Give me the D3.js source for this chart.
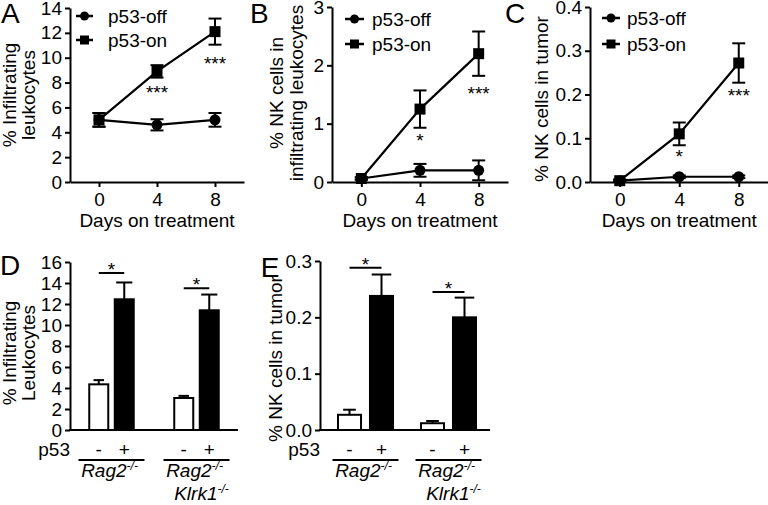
<!DOCTYPE html>
<html><head><meta charset="utf-8">
<script src="https://cdn.jsdelivr.net/npm/d3@7/dist/d3.min.js"></script>
<style>
body{margin:0;background:#fff;}
svg{display:block;}
text{font-family:"Liberation Sans",Arial,Helvetica,sans-serif;fill:#000;}
</style></head><body>
<svg id="chart" width="768" height="505"></svg>
<script>
// ---------- DATA ----------
const days = [0, 4, 8];
const seriesNames = ["p53-off", "p53-on"];

// Panel A: % infiltrating leukocytes
const aOff = [5.0, 4.6, 5.0];
const aOffErr = [0.55, 0.45, 0.55];
const aOn = [5.0, 8.9, 12.1];
const aOnErr = [0.55, 0.5, 1.05];
const aStarDays = [4, 8];
const aStarLabels = ["***", "***"];
const aStarVals = [7.5, 9.8];
const aTicks = [0, 2, 4, 6, 8, 10, 12, 14];

// Panel B: % NK cells in infiltrating leukocytes
const bOff = [0.06, 0.2, 0.2];
const bOffErr = [0.02, 0.11, 0.17];
const bOn = [0.06, 1.25, 2.2];
const bOnErr = [0.02, 0.32, 0.38];
const bStarDays = [4, 8];
const bStarLabels = ["*", "***"];
const bStarVals = [0.77, 1.58];
const bTicks = [0, 1, 2, 3];

// Panel C: % NK cells in tumor
const cOff = [0.003, 0.012, 0.012];
const cOffErr = [0.002, 0.003, 0.003];
const cOn = [0.003, 0.11, 0.272];
const cOnErr = [0.003, 0.026, 0.045];
const cStarDays = [4, 8];
const cStarLabels = ["*", "***"];
const cStarVals = [0.066, 0.206];
const cTicks = [0, 0.1, 0.2, 0.3, 0.4];

// Bar panels
const groups = ["Rag2", "Rag2 Klrk1"];
const p53States = ["-", "+"];
// Panel D: % infiltrating leukocytes
const dMinus = [4.35, 3.05];
const dMinusErr = [0.4, 0.2];
const dPlus = [12.45, 11.4];
const dPlusErr = [1.6, 1.5];
const dSig = [14.95, 13.5];
const dTicks = [0, 2, 4, 6, 8, 10, 12, 14, 16];
// Panel E: % NK cells in tumor
const eMinus = [0.027, 0.012];
const eMinusErr = [0.009, 0.004];
const ePlus = [0.238, 0.2];
const ePlusErr = [0.038, 0.035];
const eSig = [0.288, 0.245];
const eTicks = [0, 0.1, 0.2, 0.3];

// ---------- DRAWING ----------
const svg = d3.select("#chart");
svg.append("rect").attr("width", 768).attr("height", 505).attr("fill", "#fff");
const FS = 19;

function styleAxis(sel) {
  sel.selectAll("path.domain").attr("stroke", "#000").attr("stroke-width", 2);
  sel.selectAll(".tick line").attr("stroke", "#000").attr("stroke-width", 2);
  sel.selectAll(".tick text").attr("font-size", FS).attr("font-family", null).attr("fill", "#000");
  sel.attr("font-family", null).attr("font-size", FS);
}

function rotTitle(lines, xs, yc) {
  lines.forEach((t, i) => {
    svg.append("text").attr("transform", `translate(${xs[i]},${yc}) rotate(-90)`)
      .attr("text-anchor", "middle").attr("font-size", FS).text(t);
  });
}

function panelLetter(t, x, y) {
  svg.append("text").attr("x", x).attr("y", y).attr("font-size", 28).text(t);
}

function drawLinePanel(cfg) {
  const x = d3.scaleLinear().domain([-2, 10]).range(cfg.xr);
  const y = d3.scaleLinear().domain([0, cfg.yTicks[cfg.yTicks.length - 1]]).range([182, cfg.yTop]);
  const g = svg.append("g");
  const ya = d3.axisLeft(y).tickValues(cfg.yTicks).tickFormat(cfg.fmt).tickSize(5).tickSizeOuter(0).tickPadding(3);
  styleAxis(g.append("g").attr("transform", `translate(${cfg.xr[0]},0)`).call(ya));
  const xa = d3.axisBottom(x).tickValues(days).tickFormat(d3.format("d")).tickSize(5).tickSizeOuter(0).tickPadding(6);
  styleAxis(g.append("g").attr("transform", "translate(0,182)").call(xa));

  const ser = [
    { v: cfg.off, e: cfg.offErr, shape: "circle" },
    { v: cfg.on, e: cfg.onErr, shape: "square" }
  ];
  const line = d3.line().x((d, i) => x(days[i])).y(d => y(d));
  ser.forEach(s => {
    g.append("path").attr("d", line(s.v)).attr("fill", "none").attr("stroke", "#000").attr("stroke-width", 2.2);
    s.v.forEach((v, i) => {
      const cx = x(days[i]);
      const y1 = y(v - s.e[i]), y2 = y(v + s.e[i]);
      g.append("line").attr("x1", cx).attr("x2", cx).attr("y1", y1).attr("y2", y2).attr("stroke", "#000").attr("stroke-width", 2);
      [y1, y2].forEach(yy => g.append("line").attr("x1", cx - 6.5).attr("x2", cx + 6.5).attr("y1", yy).attr("y2", yy).attr("stroke", "#000").attr("stroke-width", 2));
    });
    s.v.forEach((v, i) => {
      const cx = x(days[i]), cy = y(v);
      if (s.shape === "circle") g.append("circle").attr("cx", cx).attr("cy", cy).attr("r", 5.5).attr("fill", "#000");
      else g.append("rect").attr("x", cx - 5.5).attr("y", cy - 5.5).attr("width", 11).attr("height", 11).attr("fill", "#000");
    });
  });
  cfg.starDays.forEach((d, i) => {
    g.append("text").attr("x", x(d)).attr("y", y(cfg.starVals[i]) + 10).attr("text-anchor", "middle")
      .attr("font-size", FS).text(cfg.starLabels[i]);
  });
  // legend
  const L = cfg.leg;
  ["circle", "square"].forEach((shape, i) => {
    const ly = L.y[i];
    g.append("line").attr("x1", L.x1).attr("x2", L.x2).attr("y1", ly).attr("y2", ly).attr("stroke", "#000").attr("stroke-width", 2.5);
    const mx = (L.x1 + L.x2) / 2;
    if (shape === "circle") g.append("circle").attr("cx", mx).attr("cy", ly).attr("r", 4.5).attr("fill", "#000");
    else g.append("rect").attr("x", mx - 4.5).attr("y", ly - 4.5).attr("width", 9).attr("height", 9).attr("fill", "#000");
    g.append("text").attr("x", L.tx).attr("y", ly).attr("dy", "0.36em").attr("font-size", FS).text(seriesNames[i]);
  });
  svg.append("text").attr("x", (x(0) + x(8)) / 2).attr("y", 227).attr("text-anchor", "middle").attr("font-size", FS).text("Days on treatment");
}

function drawBarPanel(cfg) {
  const y = d3.scaleLinear().domain([0, cfg.yTicks[cfg.yTicks.length - 1]]).range([430, cfg.yTop]);
  const g = svg.append("g");
  const ya = d3.axisLeft(y).tickValues(cfg.yTicks).tickFormat(cfg.fmt).tickSize(5).tickSizeOuter(0).tickPadding(3);
  styleAxis(g.append("g").attr("transform", `translate(${cfg.ax[0]},0)`).call(ya));
  g.append("line").attr("x1", cfg.ax[0] - 1).attr("x2", cfg.ax[1]).attr("y1", 430).attr("y2", 430).attr("stroke", "#000").attr("stroke-width", 2);

  const outer = d3.scaleBand().domain(groups).range(cfg.outer);
  const inner = d3.scaleBand().domain(p53States).range([0, outer.bandwidth()]).paddingInner(cfg.pi).paddingOuter(cfg.po);
  const bw = inner.bandwidth();
  groups.forEach((grp, gi) => {
    const vals = [cfg.minus[gi], cfg.plus[gi]];
    const errs = [cfg.minusErr[gi], cfg.plusErr[gi]];
    p53States.forEach((st, si) => {
      const bx = outer(grp) + inner(st);
      const cx = bx + bw / 2;
      const v = vals[si], e = errs[si];
      const capW = si === 0 ? bw * 0.55 : bw * 0.85;
      g.append("line").attr("x1", cx).attr("x2", cx).attr("y1", y(v)).attr("y2", y(v + e)).attr("stroke", "#000").attr("stroke-width", 2);
      g.append("line").attr("x1", cx - capW / 2).attr("x2", cx + capW / 2).attr("y1", y(v + e)).attr("y2", y(v + e)).attr("stroke", "#000").attr("stroke-width", 2);
      g.append("rect").attr("x", bx).attr("y", y(v)).attr("width", bw).attr("height", y(0) - y(v))
        .attr("fill", si === 0 ? "#fff" : "#000").attr("stroke", "#000").attr("stroke-width", 2);
      g.append("text").attr("x", cx).attr("y", 456).attr("text-anchor", "middle").attr("font-size", FS).text(st);
    });
    // significance bar
    const c0 = outer(grp) + inner("-") + bw / 2, c1 = outer(grp) + inner("+") + bw / 2;
    const sy = y(cfg.sig[gi]);
    g.append("line").attr("x1", c0).attr("x2", c1).attr("y1", sy).attr("y2", sy).attr("stroke", "#000").attr("stroke-width", 2);
    g.append("text").attr("x", (c0 + c1) / 2).attr("y", sy + 3).attr("text-anchor", "middle").attr("font-size", FS).text("*");
    // group underline + labels
    const gc = outer(grp) + outer.bandwidth() / 2;
    g.append("line").attr("x1", gc - 33).attr("x2", gc + 33).attr("y1", 460).attr("y2", 460).attr("stroke", "#000").attr("stroke-width", 2);
    const names = grp.split(" ");
    names.forEach((nm, ni) => {
      const t = g.append("text").attr("x", gc + (ni === 0 ? -2 : 5)).attr("y", ni === 0 ? 477 : 500)
        .attr("text-anchor", "middle").attr("font-size", FS).attr("font-style", "italic");
      t.append("tspan").text(nm);
      t.append("tspan").attr("font-size", 12).attr("dy", -7).text("-/-");
    });
  });
  g.append("text").attr("x", cfg.ax[0]).attr("y", 456).attr("text-anchor", "end").attr("font-size", FS).text("p53");
}

// Panel A
drawLinePanel({ xr: [70, 244], yTop: 8, yTicks: aTicks, fmt: d3.format("d"),
  off: aOff, offErr: aOffErr, on: aOn, onErr: aOnErr,
  starDays: aStarDays, starLabels: aStarLabels, starVals: aStarVals,
  leg: { x1: 76, x2: 93, tx: 108, y: [16, 40] } });
rotTitle(["% Infiltrating", "leukocytes"], [15.5, 34.5], 95);
panelLetter("A", 1, 23);

// Panel B
drawLinePanel({ xr: [332, 508], yTop: 7, yTicks: bTicks, fmt: d3.format("d"),
  off: bOff, offErr: bOffErr, on: bOn, onErr: bOnErr,
  starDays: bStarDays, starLabels: bStarLabels, starVals: bStarVals,
  leg: { x1: 345, x2: 364, tx: 372, y: [19, 44] } });
rotTitle(["% NK cells in", "infiltrating leukocytes"], [283, 303], 93);
panelLetter("B", 250, 23);

// Panel C
drawLinePanel({ xr: [590, 768.5], yTop: 7, yTicks: cTicks, fmt: d3.format(".1f"),
  off: cOff, offErr: cOffErr, on: cOn, onErr: cOnErr,
  starDays: cStarDays, starLabels: cStarLabels, starVals: cStarVals,
  leg: { x1: 602, x2: 620, tx: 627, y: [18, 44] } });
rotTitle(["% NK cells in tumor"], [548], 99);
panelLetter("C", 505, 23);

// Panel D
drawBarPanel({ ax: [70, 238], yTop: 262, yTicks: dTicks, fmt: d3.format("d"),
  outer: [69, 239], pi: 0.255, po: 0.794,
  minus: dMinus, minusErr: dMinusErr, plus: dPlus, plusErr: dPlusErr, sig: dSig });
rotTitle(["% Infiltrating", "Leukocytes"], [15.5, 34.5], 353);
panelLetter("D", 0, 275);

// Panel E
drawBarPanel({ ax: [320, 490], yTop: 261, yTicks: eTicks, fmt: d3.format(".1f"),
  outer: [324, 490], pi: 0.28, po: 0.437,
  minus: eMinus, minusErr: eMinusErr, plus: ePlus, plusErr: ePlusErr, sig: eSig });
rotTitle(["% NK cells in tumor"], [281.5], 359);
svg.append("text").attr("x", 270).attr("y", 277).attr("text-anchor", "middle").attr("font-size", 28).text("E");
</script>
</body></html>
